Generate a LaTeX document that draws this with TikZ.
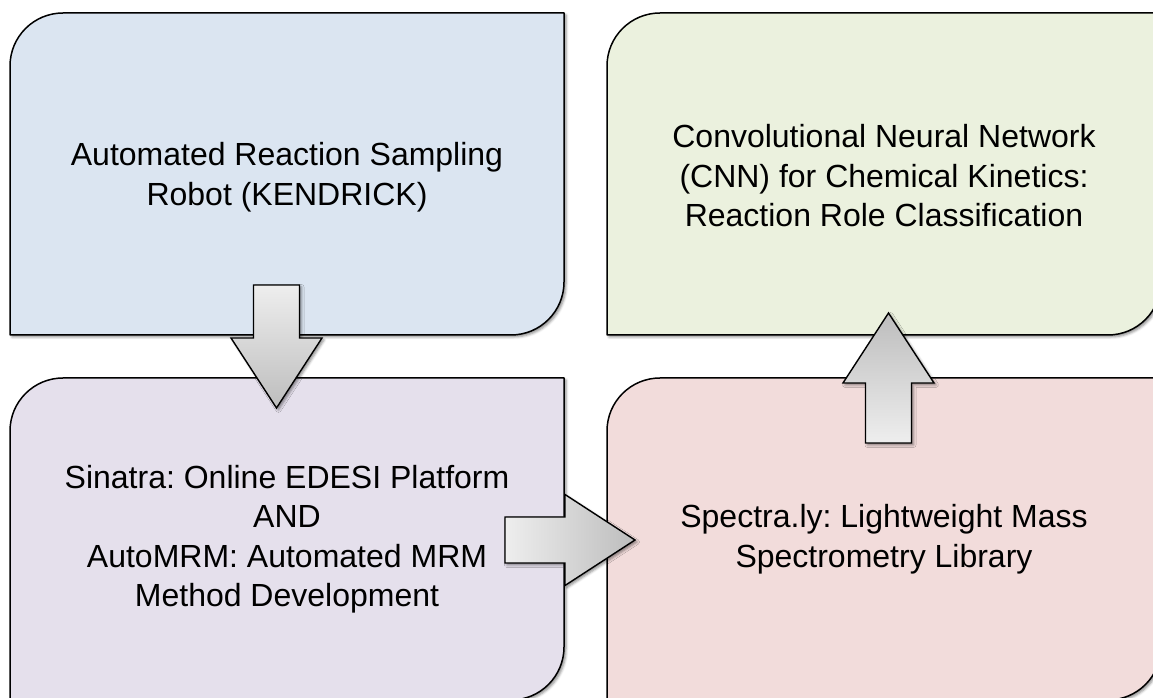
\documentclass[tikz,border=0pt]{standalone}
\usepackage{fontspec}
\setmainfont{Liberation Sans}
\frenchspacing
\usetikzlibrary{calc,shadows.blur}

\definecolor{boxblue}{HTML}{DBE5F1}
\definecolor{boxgreen}{HTML}{EBF1DE}
\definecolor{boxpurple}{HTML}{E5E0EC}
\definecolor{boxpink}{HTML}{F2DCDB}
\definecolor{arrowlight}{HTML}{EEEEEE}
\definecolor{arrowdark}{HTML}{BDBDBD}

\tikzset{
  stage/.style={minimum width=554pt, minimum height=322pt, inner sep=0pt,
    align=center, font=\fontsize{32}{39.5}\selectfont},
  softshadow/.style={blur shadow={shadow xshift=2pt, shadow yshift=-2pt,
    shadow blur radius=2.5pt, shadow opacity=45}},
  boxline/.style={draw=black, line width=1.5pt, line join=round, softshadow},
  flowarrow/.style={draw=black, line width=1.4pt, line join=miter, softshadow}
}

% box with rounded top-left and bottom-right corners, given its centre
\newcommand\stagebox[2]{%
  \path[boxline, fill=#2]
    ($(#1)+(-277,-161)$) -- ($(#1)+(-277,108)$) arc[start angle=180, end angle=90, radius=53]
    -- ($(#1)+(277,161)$) -- ($(#1)+(277,-108)$) arc[start angle=0, end angle=-90, radius=53]
    -- cycle;}

\begin{document}
\begin{tikzpicture}[x=1pt, y=1pt]
  \useasboundingbox (0,0) rectangle (1153,698);
  \clip (0,0) rectangle (1153,698);

  \coordinate (c1) at (287,524);
  \coordinate (c2) at (884,524);
  \coordinate (c3) at (287,159);
  \coordinate (c4) at (884,159);

  \stagebox{c1}{boxblue}
  \stagebox{c2}{boxgreen}
  \stagebox{c3}{boxpurple}
  \stagebox{c4}{boxpink}

  \node[stage] (kendrick) at ($(c1)+(0,-3)$) {Automated Reaction Sampling\\Robot (KENDRICK)};
  \node[stage] (cnn) at ($(c2)+(0,-2)$) {Convolutional Neural Network\\(CNN) for Chemical Kinetics:\\Reaction Role Classification};
  \node[stage] (sinatra) at (c3) {Sinatra: Online EDESI Platform\\AND\\AutoMRM: Automated MRM\\Method Development};
  \node[stage] (spectra) at (c4) {Spectra.ly: Lightweight Mass\\Spectrometry Library};

  % arrow end points
  \coordinate (downtail)  at ($(c1)+(-10.5,-111)$);
  \coordinate (downtip)   at ($(c3)+(-10.5,131)$);
  \coordinate (righttail) at ($(c3)+(218,-1)$);
  \coordinate (righttip)  at ($(c4)+(-249,-1)$);
  \coordinate (uptail)    at ($(c4)+(4.5,96)$);
  \coordinate (uptip)     at ($(c2)+(4.5,-139)$);

  % down arrow
  \path[flowarrow, top color=arrowlight, bottom color=arrowdark]
    ($(downtail)+(-23,0)$) -- ($(downtip)+(-23,70)$) -- ($(downtip)+(-45.5,70)$)
    -- (downtip) -- ($(downtip)+(45.5,70)$) -- ($(downtip)+(23,70)$)
    -- ($(downtail)+(23,0)$) -- cycle;
  % right arrow
  \path[flowarrow, left color=arrowlight, right color=arrowdark]
    ($(righttail)+(0,23)$) -- ($(righttip)+(-70,23)$) -- ($(righttip)+(-70,45.5)$)
    -- (righttip) -- ($(righttip)+(-70,-45.5)$) -- ($(righttip)+(-70,-23)$)
    -- ($(righttail)+(0,-23)$) -- cycle;
  % up arrow
  \path[flowarrow, bottom color=arrowlight, top color=arrowdark]
    ($(uptail)+(-23,0)$) -- ($(uptip)+(-23,-70)$) -- ($(uptip)+(-45.5,-70)$)
    -- (uptip) -- ($(uptip)+(45.5,-70)$) -- ($(uptip)+(23,-70)$)
    -- ($(uptail)+(23,0)$) -- cycle;
\end{tikzpicture}
\end{document}
